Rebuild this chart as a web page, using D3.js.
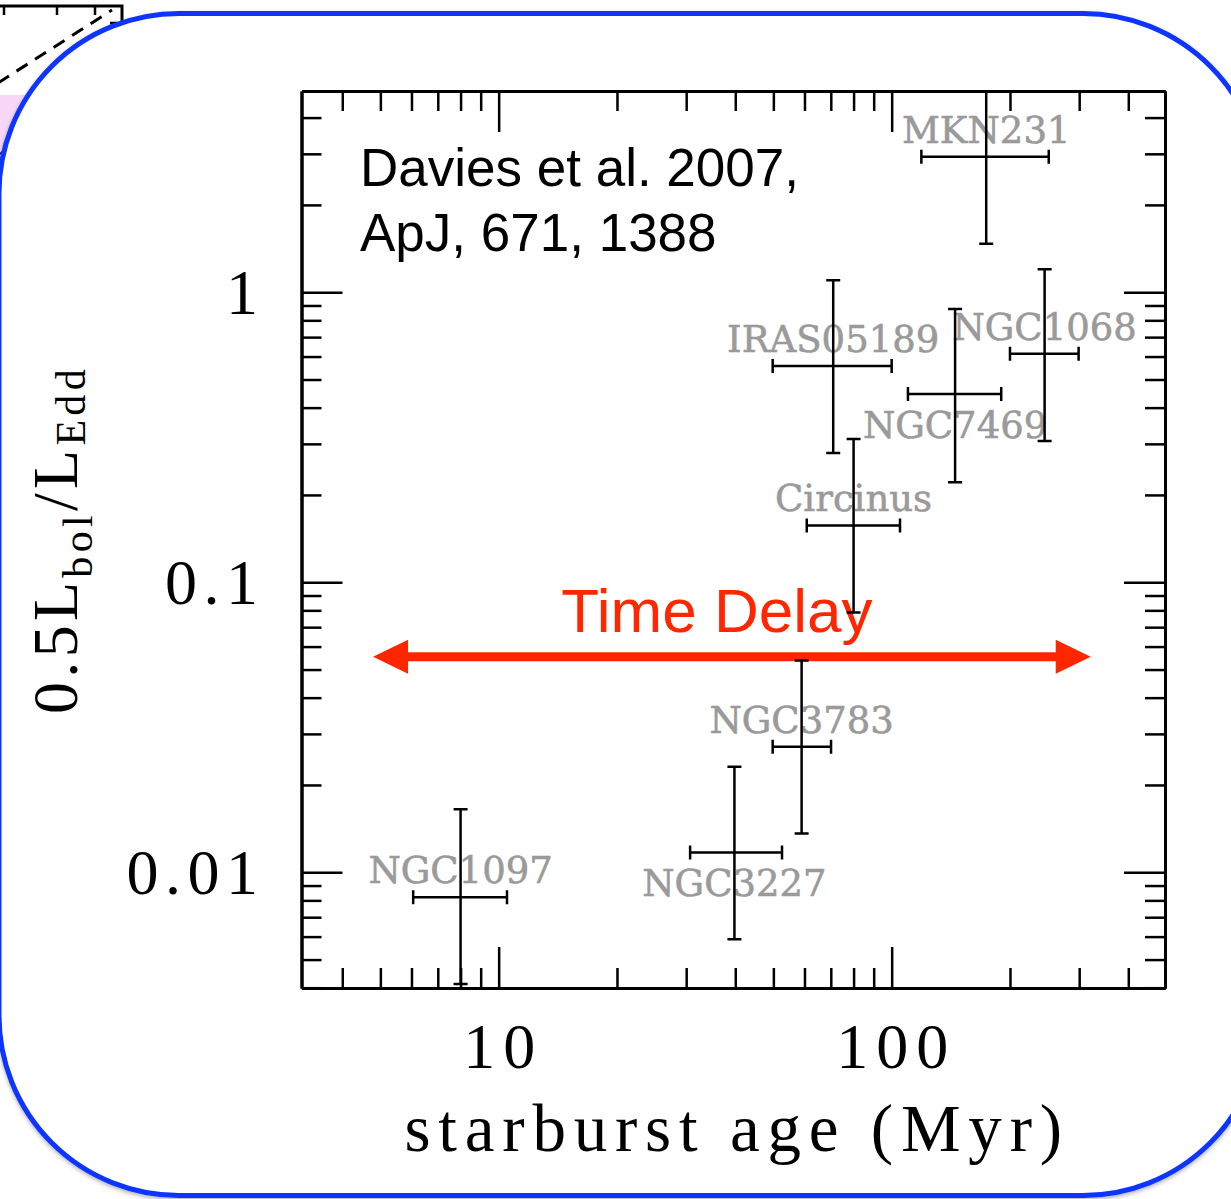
<!DOCTYPE html>
<html>
<head>
<meta charset="utf-8">
<script src="https://cdn.jsdelivr.net/npm/d3@7"></script>
<style>
  html, body { margin: 0; padding: 0; background: #fff; }
  svg { display: block; }
</style>
</head>
<body>
<script>
// ---- data -------------------------------------------------------------
// Galaxies with a nuclear starburst age and an Eddington ratio
const galaxies  = ["NGC1097", "NGC3227", "NGC3783", "Circinus", "IRAS05189", "NGC7469", "NGC1068", "MKN231"];
// starburst age (Myr): value, lower and upper bound
const ageMyr    = [8.0, 39.8, 59, 80, 71, 145, 245, 174];
const ageLow    = [6.06, 30.7, 49.8, 60.8, 49.8, 110, 200, 119];
const ageHigh   = [10.5, 52.6, 70.1, 105, 100, 190, 299, 251];
// 0.5 Lbol / LEdd: value, lower and upper bound
const eddRatio  = [0.0082, 0.0117, 0.0271, 0.157, 0.557, 0.446, 0.613, 2.93];
const eddLow    = [0.00412, 0.00587, 0.0136, 0.0786, 0.279, 0.221, 0.307, 1.47];
const eddHigh   = [0.0165, 0.0231, 0.0537, 0.312, 1.10, 0.876, 1.20, 8];
// where each name sits relative to its point
const labelSide = ["above", "below", "above", "above", "above", "below", "above", "above"];

// axis ticks
const xMajor = [10, 100];
const xMajorLabels = ["10", "100"];
const xMinor = [4, 5, 6, 7, 8, 9, 20, 30, 40, 50, 60, 70, 80, 90, 200, 300, 400];
const yMajor = [0.01, 0.1, 1];
const yMajorLabels = ["0.01", "0.1", "1"];
const yMinor = [0.004, 0.005, 0.006, 0.007, 0.008, 0.009,
                0.02, 0.03, 0.04, 0.05, 0.06, 0.07, 0.08, 0.09,
                0.2, 0.3, 0.4, 0.5, 0.6, 0.7, 0.8, 0.9, 2, 3, 4];

// "Time Delay" arrow: age span (Myr) and level
const delayAge = [4.79, 321];
const delayLevel = 0.0554;

// ---- layout -----------------------------------------------------------
const W = 1231, H = 1199;
const L = 301.5, R = 1165, T = 91, B = 988;
const BLUE = "#0d35ff", RED = "#ff2600", GRAY = "#9a9a9a";
const SERIF = "'Liberation Serif', 'DejaVu Serif', serif";

const svg = d3.select("body").append("svg")
  .attr("width", W).attr("height", H)
  .attr("viewBox", `0 0 ${W} ${H}`);

const defs = svg.append("defs");
const shadow = defs.append("filter").attr("id", "shadow")
  .attr("x", "-5%").attr("y", "-5%").attr("width", "110%").attr("height", "110%");
shadow.append("feDropShadow").attr("dx", 0).attr("dy", 2).attr("stdDeviation", 2)
  .attr("flood-color", "#000").attr("flood-opacity", 0.3);
defs.append("clipPath").attr("id", "plotclip")
  .append("rect").attr("x", L).attr("y", T).attr("width", R - L).attr("height", B - T);

// ---- slide behind the panel (previous figure peeking out) -------------
const back = svg.append("g");
back.append("rect").attr("x", 0).attr("y", 95).attr("width", 80).attr("height", 250).attr("fill", "#f8d7f8");
back.append("path").attr("d", "M0,154 Q6,150 12,140").attr("fill", "none")
  .attr("stroke", "#3b0b3b").attr("stroke-width", 2);
back.append("path").attr("d", "M-5,6 H122 V40").attr("fill", "none")
  .attr("stroke", "#000").attr("stroke-width", 3);
[4, 57, 95].forEach(px => back.append("line").attr("x1", px).attr("x2", px)
  .attr("y1", 6).attr("y2", 15).attr("stroke", "#000").attr("stroke-width", 2.5));
back.append("line").attr("x1", 110).attr("x2", 122).attr("y1", 23).attr("y2", 23)
  .attr("stroke", "#000").attr("stroke-width", 2.5);
back.append("line").attr("x1", -2).attr("y1", 83).attr("x2", 112).attr("y2", 10)
  .attr("stroke", "#000").attr("stroke-width", 3).attr("stroke-dasharray", "13,9");

// ---- rounded blue panel -----------------------------------------------
svg.append("rect")
  .attr("x", -1).attr("y", 13.5).attr("width", 1264).attr("height", 1182)
  .attr("rx", 180).attr("ry", 180)
  .attr("fill", "#fff").attr("stroke", BLUE).attr("stroke-width", 5)
  .attr("filter", "url(#shadow)");

// ---- scales -----------------------------------------------------------
const x = d3.scaleLog().domain([3.15, 496]).range([L, R]);
const y = d3.scaleLog().domain([0.00399, 4.94]).range([B, T]);

// ---- axes (ticks on all four sides, pointing inward) -------------------
function styleAxis(g, width) {
  g.select(".domain").attr("stroke", "#000").attr("stroke-width", 3);
  g.selectAll(".tick line").attr("stroke", "#000").attr("stroke-width", width);
}
const minorLen = 20, majorLen = 41;

[["bottom", d3.axisBottom, `translate(0,${B})`, x, xMinor, xMajor],
 ["top", d3.axisTop, `translate(0,${T})`, x, xMinor, xMajor],
 ["left", d3.axisLeft, `translate(${L},0)`, y, yMinor, yMajor],
 ["right", d3.axisRight, `translate(${R},0)`, y, yMinor, yMajor]]
.forEach(([side, axisFn, tr, sc, minor, major]) => {
  const gMinor = svg.append("g").attr("transform", tr)
    .call(axisFn(sc).tickValues(minor).tickSize(-minorLen).tickSizeOuter(0).tickFormat(""));
  styleAxis(gMinor, 2.5);
  const gMajor = svg.append("g").attr("transform", tr)
    .call(axisFn(sc).tickValues(major).tickSize(-majorLen).tickSizeOuter(0)
      .tickFormat((d, i) => (side === "bottom" ? xMajorLabels[i] : side === "left" ? yMajorLabels[i] : "")));
  styleAxis(gMajor, 2.5);
  gMajor.attr("font-family", SERIF).attr("font-size", 64);
  gMajor.selectAll(".tick text").attr("fill", "#000");
  if (side === "bottom") {
    gMajor.selectAll(".tick text").attr("y", 80).attr("dy", null)
      .attr("letter-spacing", 8).attr("dx", 4);
  }
  if (side === "left") {
    gMajor.selectAll(".tick text").attr("x", -43.5).attr("dy", null).attr("y", 21)
      .attr("letter-spacing", 6.5).attr("dx", 6.5);
  }
});

// ---- axis titles --------------------------------------------------------
svg.append("text")
  .attr("x", (L + R) / 2).attr("y", 1151)
  .attr("text-anchor", "middle")
  .attr("font-family", SERIF).attr("font-size", 67)
  .attr("letter-spacing", 7.8).attr("dx", 3.9)
  .text("starburst age (Myr)");

const yt = svg.append("text")
  .attr("transform", `translate(77,${(T + B) / 2}) rotate(-90)`)
  .attr("text-anchor", "middle")
  .attr("font-family", SERIF).attr("font-size", 64).attr("letter-spacing", 4.3);
yt.append("tspan").text("0.5L");
yt.append("tspan").attr("font-size", 42).attr("dy", 15).text("bol");
yt.append("tspan").attr("dy", -15).text("/L");
yt.append("tspan").attr("font-size", 42).attr("dy", 8).text("Edd");

// ---- reference note -----------------------------------------------------
const note = svg.append("text")
  .attr("font-family", "'Liberation Sans', Arial, sans-serif").attr("font-size", 53).attr("fill", "#000");
note.append("tspan").attr("x", L + 58.5).attr("y", T + 95).text("Davies et al. 2007,");
note.append("tspan").attr("x", L + 58.5).attr("y", T + 160).text("ApJ, 671, 1388");

// ---- time delay arrow ----------------------------------------------------
const ay = y(delayLevel), ax0 = x(delayAge[0]), ax1 = x(delayAge[1]);
const headL = 35, headH = 17;
svg.append("line").attr("x1", ax0 + headL - 2).attr("x2", ax1 - headL + 2)
  .attr("y1", ay).attr("y2", ay).attr("stroke", RED).attr("stroke-width", 9);
svg.append("path").attr("fill", RED)
  .attr("d", `M${ax0},${ay} L${ax0 + headL},${ay - headH} L${ax0 + headL},${ay + headH} Z`);
svg.append("path").attr("fill", RED)
  .attr("d", `M${ax1},${ay} L${ax1 - headL},${ay - headH} L${ax1 - headL},${ay + headH} Z`);
svg.append("text")
  .attr("x", (ax0 + ax1) / 2 - 15).attr("y", ay - 25)
  .attr("text-anchor", "middle")
  .attr("font-family", "'Liberation Sans', Arial, sans-serif").attr("font-size", 62)
  .attr("fill", RED).text("Time Delay");

// ---- galaxy names -------------------------------------------------------
svg.append("g").selectAll("text").data(galaxies).join("text")
  .attr("x", (d, i) => x(ageMyr[i]))
  .attr("y", (d, i) => y(eddRatio[i]) + (labelSide[i] === "above" ? -14 : 44))
  .attr("text-anchor", "middle")
  .attr("font-family", "'DejaVu Serif', serif").attr("font-size", 37)
  .attr("fill", GRAY).attr("stroke", GRAY).attr("stroke-width", 0.6)
  .text(d => d);

// ---- error bars ---------------------------------------------------------
const cap = 7;
const bars = svg.append("g").attr("clip-path", "url(#plotclip)")
  .attr("stroke", "#000").attr("stroke-width", 2.5).attr("fill", "none");
galaxies.forEach((g, i) => {
  const cx = x(ageMyr[i]), cy = y(eddRatio[i]);
  const xl = x(ageLow[i]), xh = x(ageHigh[i]);
  const yl = y(eddLow[i]), yh = y(eddHigh[i]);
  bars.append("path").attr("d",
    `M${xl},${cy} H${xh}` +
    `M${xl},${cy - cap} V${cy + cap}` +
    `M${xh},${cy - cap} V${cy + cap}` +
    `M${cx},${yl} V${yh}` +
    `M${cx - cap},${yl} H${cx + cap}` +
    `M${cx - cap},${yh} H${cx + cap}`);
});
</script>
</body>
</html>
